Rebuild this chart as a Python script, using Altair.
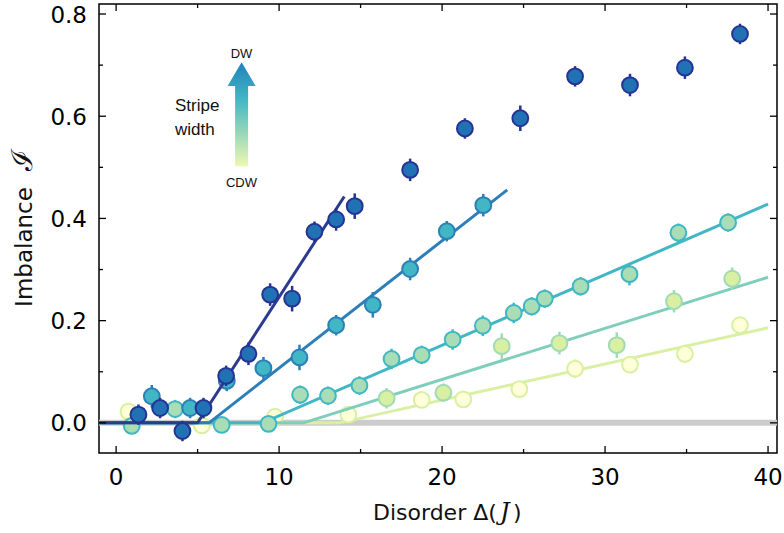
import altair as alt
import pandas as pd

# ---- imbalance vs. disorder, one set of lists per stripe width ----
dw_x = [1.37, 2.70, 4.07, 5.36, 6.75, 8.12, 9.45, 10.80, 12.17, 13.50, 14.64,
        18.04, 21.40, 24.80, 28.16, 31.53, 34.90, 38.28]
dw_y = [0.016, 0.029, -0.016, 0.029, 0.092, 0.135, 0.251, 0.243, 0.374, 0.398, 0.424,
        0.495, 0.576, 0.596, 0.678, 0.661, 0.695, 0.761]
dw_err = [0.020, 0.020, 0.020, 0.020, 0.020, 0.022, 0.022, 0.025, 0.020, 0.022, 0.025,
          0.022, 0.020, 0.025, 0.020, 0.022, 0.022, 0.020]

w2_x = [2.19, 4.54, 6.79, 9.04, 11.25, 13.50, 15.75, 18.04, 20.29, 22.53]
w2_y = [0.052, 0.029, 0.082, 0.107, 0.128, 0.191, 0.231, 0.301, 0.375, 0.426]
w2_err = [0.022, 0.020, 0.020, 0.022, 0.025, 0.020, 0.025, 0.022, 0.020, 0.022]

w3_x = [0.96, 3.62, 6.48, 9.35, 11.29, 13.00, 14.93, 16.90, 18.75, 20.65,
        22.50, 24.40, 25.50, 26.30, 28.50, 31.50, 34.50, 37.55]
w3_y = [-0.006, 0.027, -0.004, -0.002, 0.055, 0.053, 0.073, 0.125, 0.133, 0.163,
        0.190, 0.215, 0.228, 0.243, 0.267, 0.291, 0.372, 0.392]
w3_err = [0.015, 0.018, 0.015, 0.015, 0.018, 0.018, 0.018, 0.020, 0.018, 0.020,
          0.020, 0.020, 0.018, 0.018, 0.018, 0.022, 0.018, 0.018]

w4_x = [16.60, 20.08, 23.66, 27.20, 30.72, 34.23, 37.80]
w4_y = [0.048, 0.059, 0.150, 0.156, 0.152, 0.238, 0.282]
w4_err = [0.020, 0.018, 0.025, 0.022, 0.025, 0.022, 0.022]

cdw_x = [0.76, 5.26, 9.75, 14.25, 18.75, 21.30, 24.74, 28.16, 31.53, 34.90, 38.28]
cdw_y = [0.022, -0.005, 0.012, 0.016, 0.045, 0.046, 0.066, 0.106, 0.114, 0.135, 0.191]
cdw_err = [0.012, 0.012, 0.012, 0.015, 0.015, 0.015, 0.015, 0.018, 0.015, 0.018, 0.015]

# piecewise-linear threshold fits (vertices)
dw_fit_x, dw_fit_y = [-1.05, 5.0, 14.0], [0.0, 0.0, 0.443]
w2_fit_x, w2_fit_y = [-1.05, 5.7, 24.0], [0.0, 0.0, 0.456]
w3_fit_x, w3_fit_y = [-1.05, 9.0, 40.0], [0.0, 0.0, 0.428]
w4_fit_x, w4_fit_y = [-1.05, 11.5, 40.0], [0.0, 0.0, 0.285]
cdw_fit_x, cdw_fit_y = [-1.05, 13.7, 40.0], [0.0, 0.0, 0.186]

# axis ticks and their labels
x_major = [0, 10, 20, 30, 40]
x_minor = [5, 15, 25, 35]
x_labels = ["0", "10", "20", "30", "40"]
y_major = [0.0, 0.2, 0.4, 0.6, 0.8]
y_minor = [0.1, 0.3, 0.5, 0.7]
y_labels = ["0.0", "0.2", "0.4", "0.6", "0.8"]

# annotation
arrow_pos = [7.7, 0.604]
ann_labels = ["DW", "CDW", "Stripe", "width"]

W, H = 678, 449
X_DOM = [-1.05, 40.55]
Y_DOM = [-0.059, 0.8196]
xscale = alt.Scale(domain=X_DOM, nice=False, zero=False)
yscale = alt.Scale(domain=Y_DOM, nice=False, zero=False)


def X(field="x"):
    return alt.X(f"{field}:Q", scale=xscale, axis=None)


def Y(field="y"):
    return alt.Y(f"{field}:Q", scale=yscale, axis=None)


def series(xs, ys, es, fx, fy, fill, edge, line):
    pts = pd.DataFrame({"x": xs, "y": ys,
                        "lo": [y - e for y, e in zip(ys, es)],
                        "hi": [y + e for y, e in zip(ys, es)]})
    fit = pd.DataFrame({"x": fx, "y": fy})
    fit_line = alt.Chart(fit).mark_line(color=line, strokeWidth=3).encode(x=X(), y=Y())
    bars = alt.Chart(pts).mark_rule(color=edge, strokeWidth=2.5).encode(
        x=X(), y=Y("lo"), y2="hi:Q")
    dots = alt.Chart(pts).mark_point(
        shape="circle", filled=True, fill=fill, stroke=edge, strokeWidth=2,
        size=250, opacity=1).encode(x=X(), y=Y())
    return [fit_line, bars, dots]


layers = []

# zero reference band
zero_df = pd.DataFrame({"x": [X_DOM[0]], "x2": [X_DOM[1]], "y": [0.0]})
layers.append(alt.Chart(zero_df).mark_rule(color="#cccccc", strokeWidth=6).encode(
    x=X(), x2="x2:Q", y=Y()))

layers += series(cdw_x, cdw_y, cdw_err, cdw_fit_x, cdw_fit_y, "#ffffd9", "#d9f0a3", "#d9f0a3")
layers += series(w4_x, w4_y, w4_err, w4_fit_x, w4_fit_y, "#d9f0a3", "#a1dab4", "#7fcdbb")
layers += series(w3_x, w3_y, w3_err, w3_fit_x, w3_fit_y, "#a8ddb5", "#41b6c4", "#41b6c4")
layers += series(w2_x, w2_y, w2_err, w2_fit_x, w2_fit_y, "#41b6c4", "#2c7fb8", "#2c7fb8")
layers += series(dw_x, dw_y, dw_err, dw_fit_x, dw_fit_y, "#2171b5", "#253494", "#2c3b8f")

# inward ticks on all four sides
for vals, ln in ((x_major, 7), (x_minor, 4)):
    d = pd.DataFrame({"x": vals})
    layers.append(alt.Chart(d).mark_rule(color="black", strokeWidth=1.3).encode(
        x=X(), y=alt.value(H), y2=alt.value(H - ln)))
    layers.append(alt.Chart(d).mark_rule(color="black", strokeWidth=1.3).encode(
        x=X(), y=alt.value(0), y2=alt.value(ln)))
for vals, ln in ((y_major, 7), (y_minor, 4)):
    d = pd.DataFrame({"y": vals})
    layers.append(alt.Chart(d).mark_rule(color="black", strokeWidth=1.3).encode(
        y=Y(), x=alt.value(0), x2=alt.value(ln)))
    layers.append(alt.Chart(d).mark_rule(color="black", strokeWidth=1.3).encode(
        y=Y(), x=alt.value(W), x2=alt.value(W - ln)))

# tick labels
xl = pd.DataFrame({"x": x_major, "t": x_labels})
layers.append(alt.Chart(xl).mark_text(
    font="DejaVu Sans", fontSize=23, color="black", align="center",
    baseline="alphabetic").encode(x=X(), y=alt.value(H + 32), text="t:N"))
yl = pd.DataFrame({"y": y_major, "t": y_labels})
layers.append(alt.Chart(yl).mark_text(
    font="DejaVu Sans", fontSize=23, color="black", align="right",
    baseline="alphabetic", dy=8.5).encode(y=Y(), x=alt.value(-12), text="t:N"))

# stripe-width arrow with colour gradient
arrow_path = ("M -0.125 1 L -0.125 -0.54 L -0.27 -0.54 L 0 -1 "
              "L 0.27 -0.54 L 0.125 -0.54 L 0.125 1 Z")
grad = alt.LinearGradient(
    gradient="linear", x1=0, x2=0, y1=1, y2=0,
    stops=[alt.GradientStop(offset=0, color="#edf8b1"),
           alt.GradientStop(offset=0.35, color="#8fd4b9"),
           alt.GradientStop(offset=0.65, color="#41b6c4"),
           alt.GradientStop(offset=1, color="#2280ba")])
arrow_df = pd.DataFrame({"x": [arrow_pos[0]], "y": [arrow_pos[1]]})
layers.append(alt.Chart(arrow_df).mark_point(
    shape=arrow_path, size=10816, filled=True, fill=grad, strokeWidth=0,
    opacity=1).encode(x=X(), y=Y()))

one = pd.DataFrame({"k": [0]})


def label(text, px, py, size, font="Liberation Sans", align="center",
          angle=0, style="normal"):
    return alt.Chart(one).mark_text(
        text=text, font=font, fontSize=size, align=align, baseline="alphabetic",
        angle=angle, fontStyle=style, color="#111111").encode(
        x=alt.value(px), y=alt.value(py))


# arrow annotation (pixel positions relative to the plot area)
layers.append(label(ann_labels[0], 142.5, 53.5, 13))
layers.append(label(ann_labels[1], 142.5, 183, 13))
layers.append(label(ann_labels[2], 76, 107, 17, align="left"))
layers.append(label(ann_labels[3], 76, 131, 17, align="left"))

# axis titles
layers.append(label("Disorder \u0394(", 274, 516, 22, font="DejaVu Sans", align="left"))
layers.append(label("J", 401, 516, 24, font="DejaVu Serif", align="left", style="italic"))
layers.append(label(")", 414, 516, 22, font="DejaVu Sans", align="left"))
layers.append(label("Imbalance", -67, 243, 23, font="DejaVu Sans", angle=270))
layers.append(label("\u2110", -67, 156, 29, font="DejaVu Serif", angle=270))

chart = alt.layer(*layers).properties(
    width=W, height=H,
    autosize=alt.AutoSizeParams(type="none"),
    padding={"left": 99, "top": 4, "right": 7, "bottom": 80},
).configure_view(stroke="black", strokeWidth=1.5)

chart.save("out.html", embed_options={"renderer": "svg", "actions": False})
